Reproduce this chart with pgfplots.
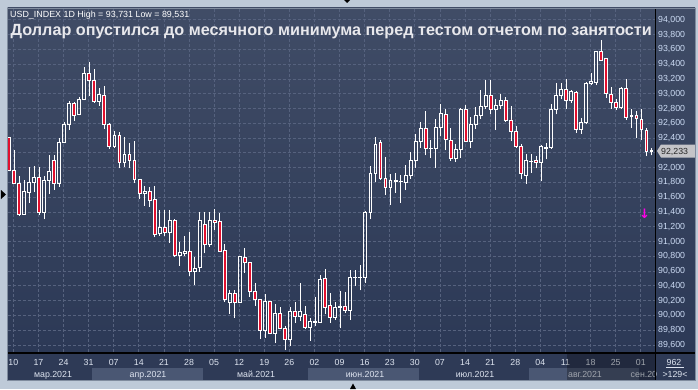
\documentclass[border=0pt]{standalone}
\usepackage{pgfplots}
\pgfplotsset{compat=1.18}
\usepackage{pgfplotstable}
\usepackage{fontspec}
\setmainfont{Liberation Sans}
\newfontfamily\dejavu{DejaVu Sans}
\definecolor{bgtop}{RGB}{64,76,102}
\definecolor{bgbot}{RGB}{44,57,86}
\definecolor{outerc}{RGB}{190,202,216}
\definecolor{framec}{RGB}{128,140,158}
\definecolor{gridc}{RGB}{86,98,126}
\definecolor{cred}{RGB}{225,16,46}
\definecolor{datebg}{RGB}{46,58,86}
\definecolor{bandc}{RGB}{74,87,115}
\definecolor{lblc}{RGB}{205,220,245}
\definecolor{datec}{RGB}{222,228,240}
\definecolor{titlec}{RGB}{232,232,236}
\definecolor{tagc}{RGB}{196,196,200}
\definecolor{arrowc}{RGB}{255,0,230}
\pgfdeclarelayer{bg}
\pgfsetlayers{bg,main}

\pgfplotstableread{
i o h l c
0 92410 92415 91950 91968
1 91960 92240 91780 91790
2 91790 91880 91350 91370
3 91370 91830 91360 91680
4 91670 92010 91525 91800
5 91800 92020 91670 91870
6 91870 92010 91360 91390
7 91390 91880 91300 91830
8 91820 92170 91640 91950
9 92100 92170 91700 91790
10 91790 92400 91740 92340
11 92340 92620 92330 92590
12 92590 92900 92510 92870
13 92870 92890 92635 92710
14 92720 92960 92710 92925
15 92925 93365 92915 93275
16 93275 93425 92975 93185
17 93175 93330 92880 92900
18 92900 93075 92835 92995
19 92980 93100 92520 92590
20 92590 92600 92250 92285
21 92285 92495 92275 92440
22 92440 92480 91990 92065
23 92065 92410 92010 92180
24 92180 92330 91990 92100
25 92100 92365 91790 91845
26 91845 91850 91575 91645
27 91645 91750 91485 91680
28 91680 91740 91470 91550
29 91570 91750 91060 91100
30 91110 91420 91080 91190
31 91190 91425 91075 91120
32 91120 91425 90985 91290
33 91290 91310 90795 90805
34 90810 90990 90675 90850
35 90840 91080 90805 90870
36 90870 91130 90540 90590
37 90590 90795 90410 90640
38 90650 91405 90590 91280
39 91230 91405 90840 90960
40 90960 91405 90930 91290
41 91290 91435 91155 91255
42 91265 91380 90860 90865
43 90885 90960 90185 90220
44 90175 90345 90020 90300
45 90300 90350 89970 90175
46 90175 90810 90165 90795
47 90790 90915 90580 90720
48 90720 90725 90255 90320
49 90320 90435 90130 90210
50 90210 90215 89680 89800
51 89800 90290 89700 90195
52 90195 90200 89745 89760
53 89760 90155 89630 90020
54 90030 90110 89815 89825
55 89825 89860 89531 89680
56 89680 90120 89580 90050
57 90060 90175 89895 89985
58 89985 90435 89930 90050
59 90015 90130 89810 89840
60 89840 89960 89660 89925
61 89910 90255 89855 89925
62 89910 90545 89895 90490
63 90500 90630 90015 90110
64 90130 90300 89900 89975
65 89975 90185 89940 90110
66 90110 90335 89825 90120
67 90128 90320 90030 90064
68 90064 90615 89940 90516
69 90510 90620 90404 90520
70 90515 90688 90340 90518
71 90520 91410 90440 91400
72 91400 92020 91300 91915
73 91915 92410 91805 92310
74 92335 92380 91835 91850
75 91850 92145 91635 91730
76 91730 91910 91500 91825
77 91815 91925 91660 91820
78 91810 91895 91525 91815
79 91805 92030 91695 91895
80 91895 92210 91850 92095
81 92095 92450 92000 92360
82 92360 92615 92270 92525
83 92525 92765 92165 92255
84 92255 92380 92135 92260
85 92260 92660 92000 92540
86 92540 92855 92430 92730
87 92720 92800 92235 92380
88 92370 92540 92090 92120
89 92120 92315 92075 92245
90 92245 92810 92135 92785
91 92785 92845 92345 92360
92 92360 92685 92270 92585
93 92585 92825 92525 92700
94 92700 93045 92655 92825
95 92825 93180 92790 92980
96 92980 93185 92720 92790
97 92790 92925 92510 92840
98 92840 92990 92790 92910
99 92910 92960 92620 92645
100 92645 92840 92360 92485
101 92485 92560 92270 92290
102 92290 92325 91840 91915
103 91900 92180 91780 92095
104 92085 92180 91930 92090
105 92095 92155 91990 92065
106 92065 92300 91815 92285
107 92265 92335 92110 92275
108 92270 92865 92255 92790
109 92790 93150 92720 92980
110 92980 93150 92925 93060
111 93060 93195 92800 92910
112 92910 93045 92880 93025
113 93015 93035 92470 92510
114 92515 92665 92460 92610
115 92610 93165 92585 93140
116 93135 93285 93115 93165
117 93150 93580 93115 93570
118 93570 93731 93440 93450
119 93475 93480 92945 93005
120 92990 93085 92800 92880
121 92880 92925 92780 92820
122 92820 93095 92800 93070
123 93070 93195 92650 92675
124 92695 92790 92540 92700
125 92700 92765 92395 92660
126 92655 92790 92380 92515
127 92505 92540 92155 92215
128 92215 92260 92165 92233
}\candles

\pgfplotsset{
  geom/.style={scale only axis,
    width=647.5pt, height=344pt,
    xmin=-0.3, xmax=128.7, ymin=89505, ymax=94160},
  wick/.style={draw=none, mark=none, forget plot,
    error bars/.cd, y dir=plus, y explicit, error mark=none,
    error bar style={draw=white, line width=0.9pt, solid}},
}

\begin{document}
\begin{tikzpicture}[x=1pt,y=1pt]
\begin{axis}[geom,
  axis line style={draw=none},
  tick style={draw=none},
  xtick={0.86,5.86,...,125.86},
  xticklabels={10,17,24,31,07,14,21,28,05,12,19,26,02,09,16,23,30,07,14,21,28,04,11,18,25,01},
  ytick={89600,89800,90000,90200,90400,90600,90800,91000,91200,91400,91600,91800,92000,92400,92600,92800,93000,93200,93400,93600,93800,94000},
  extra y ticks={92200},
  extra y tick labels={},
  extra tick style={grid=major},
  yticklabel pos=right,
  scaled y ticks=false,
  grid=major,
  major grid style={gridc, line width=0.8pt, dash pattern=on 3pt off 2pt},
  x tick label style={font=\fontsize{8.8}{10}\selectfont, text=datec, anchor=base, yshift=-13.7pt},
  y tick label style={font=\fontsize{8.8}{10}\selectfont, text=lblc, anchor=west, inner sep=0pt, xshift=3pt},
  /pgf/number format/fixed,
  /pgf/number format/precision=0,
  /pgf/number format/1000 sep={,},
  /pgf/number format/assume math mode=true,
]
\coordinate (O) at (rel axis cs:0,0);
\addplot[wick] table[x=i, y=l, y error plus expr={min(\thisrow{o},\thisrow{c})-\thisrow{l}}] {\candles};
\addplot[wick] table[x=i, y expr={max(\thisrow{o},\thisrow{c})}, y error plus expr={\thisrow{h}-max(\thisrow{o},\thisrow{c})}] {\candles};
\node[text=arrowc, font=\dejavu\bfseries\fontsize{13}{13}\selectfont, inner sep=0pt] at (axis cs:126.6,91380) {↓};
\end{axis}

\begin{axis}[geom, hide axis, ybar stacked, bar width=2.9pt]
\addplot[draw=none, fill=none] table[x=i, y expr={min(\thisrow{o},\thisrow{c})}] {\candles};
\addplot[draw=white, line width=0.9pt, fill=none] table[x=i, y expr={max(\thisrow{c}-\thisrow{o},0)}] {\candles};
\addplot[draw=white, line width=0.9pt, fill=cred] table[x=i, y expr={max(\thisrow{o}-\thisrow{c},0)}] {\candles};
\end{axis}

\begin{pgfonlayer}{bg}
\begin{scope}[shift={(O)}]\begin{scope}[shift={(-7.5,-37)}]
\fill[outerc] (0,0) rectangle (698,389);
\shade[top color=bgtop, bottom color=bgbot] (7.5,37) rectangle (695,381);
\fill[datebg] (7.5,9) rectangle (695,37);
\fill[bandc] (92,9) rectangle (202.5,21);
\fill[bandc] (308,9) rectangle (418.5,21);
\fill[bandc] (529,9) rectangle (639,21);
\end{scope}\end{scope}
\end{pgfonlayer}

\begin{scope}[shift={(O)}]\begin{scope}[shift={(-7.5,-37)}]
\foreach \xx/\tt in {53/мар.2021,148/апр.2021,256/май.2021,365/июн.2021,475/июл.2021,585/авг.2021}
  \node[anchor=base, inner sep=0pt, text=datec, font=\fontsize{8.8}{10}\selectfont] at (\xx,12) {\tt};
\node[anchor=base west, inner sep=0pt, text=datec, font=\fontsize{8.8}{10}\selectfont] at (630.5,12) {сен.20};
\fill[black, opacity=0.28] (567,9) rectangle (655,35);
\draw[black, line width=1.2pt] (7.5,36) -- (695,36);
\draw[black, line width=1.2pt] (655.5,9) -- (655.5,381);
\node[anchor=base, inner sep=0pt, text=datec, font=\fontsize{8.8}{10}\selectfont] at (674,23.5) {962};
\draw[datec, line width=0.6pt] (666,21.3) -- (684,21.3);
\node[anchor=base, inner sep=0pt, text=datec, font=\fontsize{8.8}{10}\selectfont] at (675,12) {>129<};
\fill[tagc] (657,238) -- (661,244.5) -- (695,244.5) -- (695,231.5) -- (661,231.5) -- cycle;
\node[anchor=base west, inner sep=0pt, text=black!85, font=\fontsize{8.8}{10}\selectfont] at (661,234.8) {92,233};
\node[anchor=base west, inner sep=0pt, text=white, font=\fontsize{8.9}{10}\selectfont] at (10,371.5) {USD\_INDEX 1D High = 93,731 Low = 89,531};
\node[anchor=base west, inner sep=0pt, text=titlec, font=\bfseries\fontsize{16.2}{18}\selectfont] at (10.5,353.5) {Доллар опустился до месячного минимума перед тестом отчетом по занятости};
\draw[framec, line width=0.8pt] (7.5,9) rectangle (695,381);
\fill[black] (1,199) -- (6,194.5) -- (1,190) -- cycle;
\fill[black] (350,0) -- (356,0) -- (353,5.5) -- cycle;
\fill[black] (344,389) -- (350,389) -- (347,386) -- cycle;
\end{scope}\end{scope}
\end{tikzpicture}
\end{document}
